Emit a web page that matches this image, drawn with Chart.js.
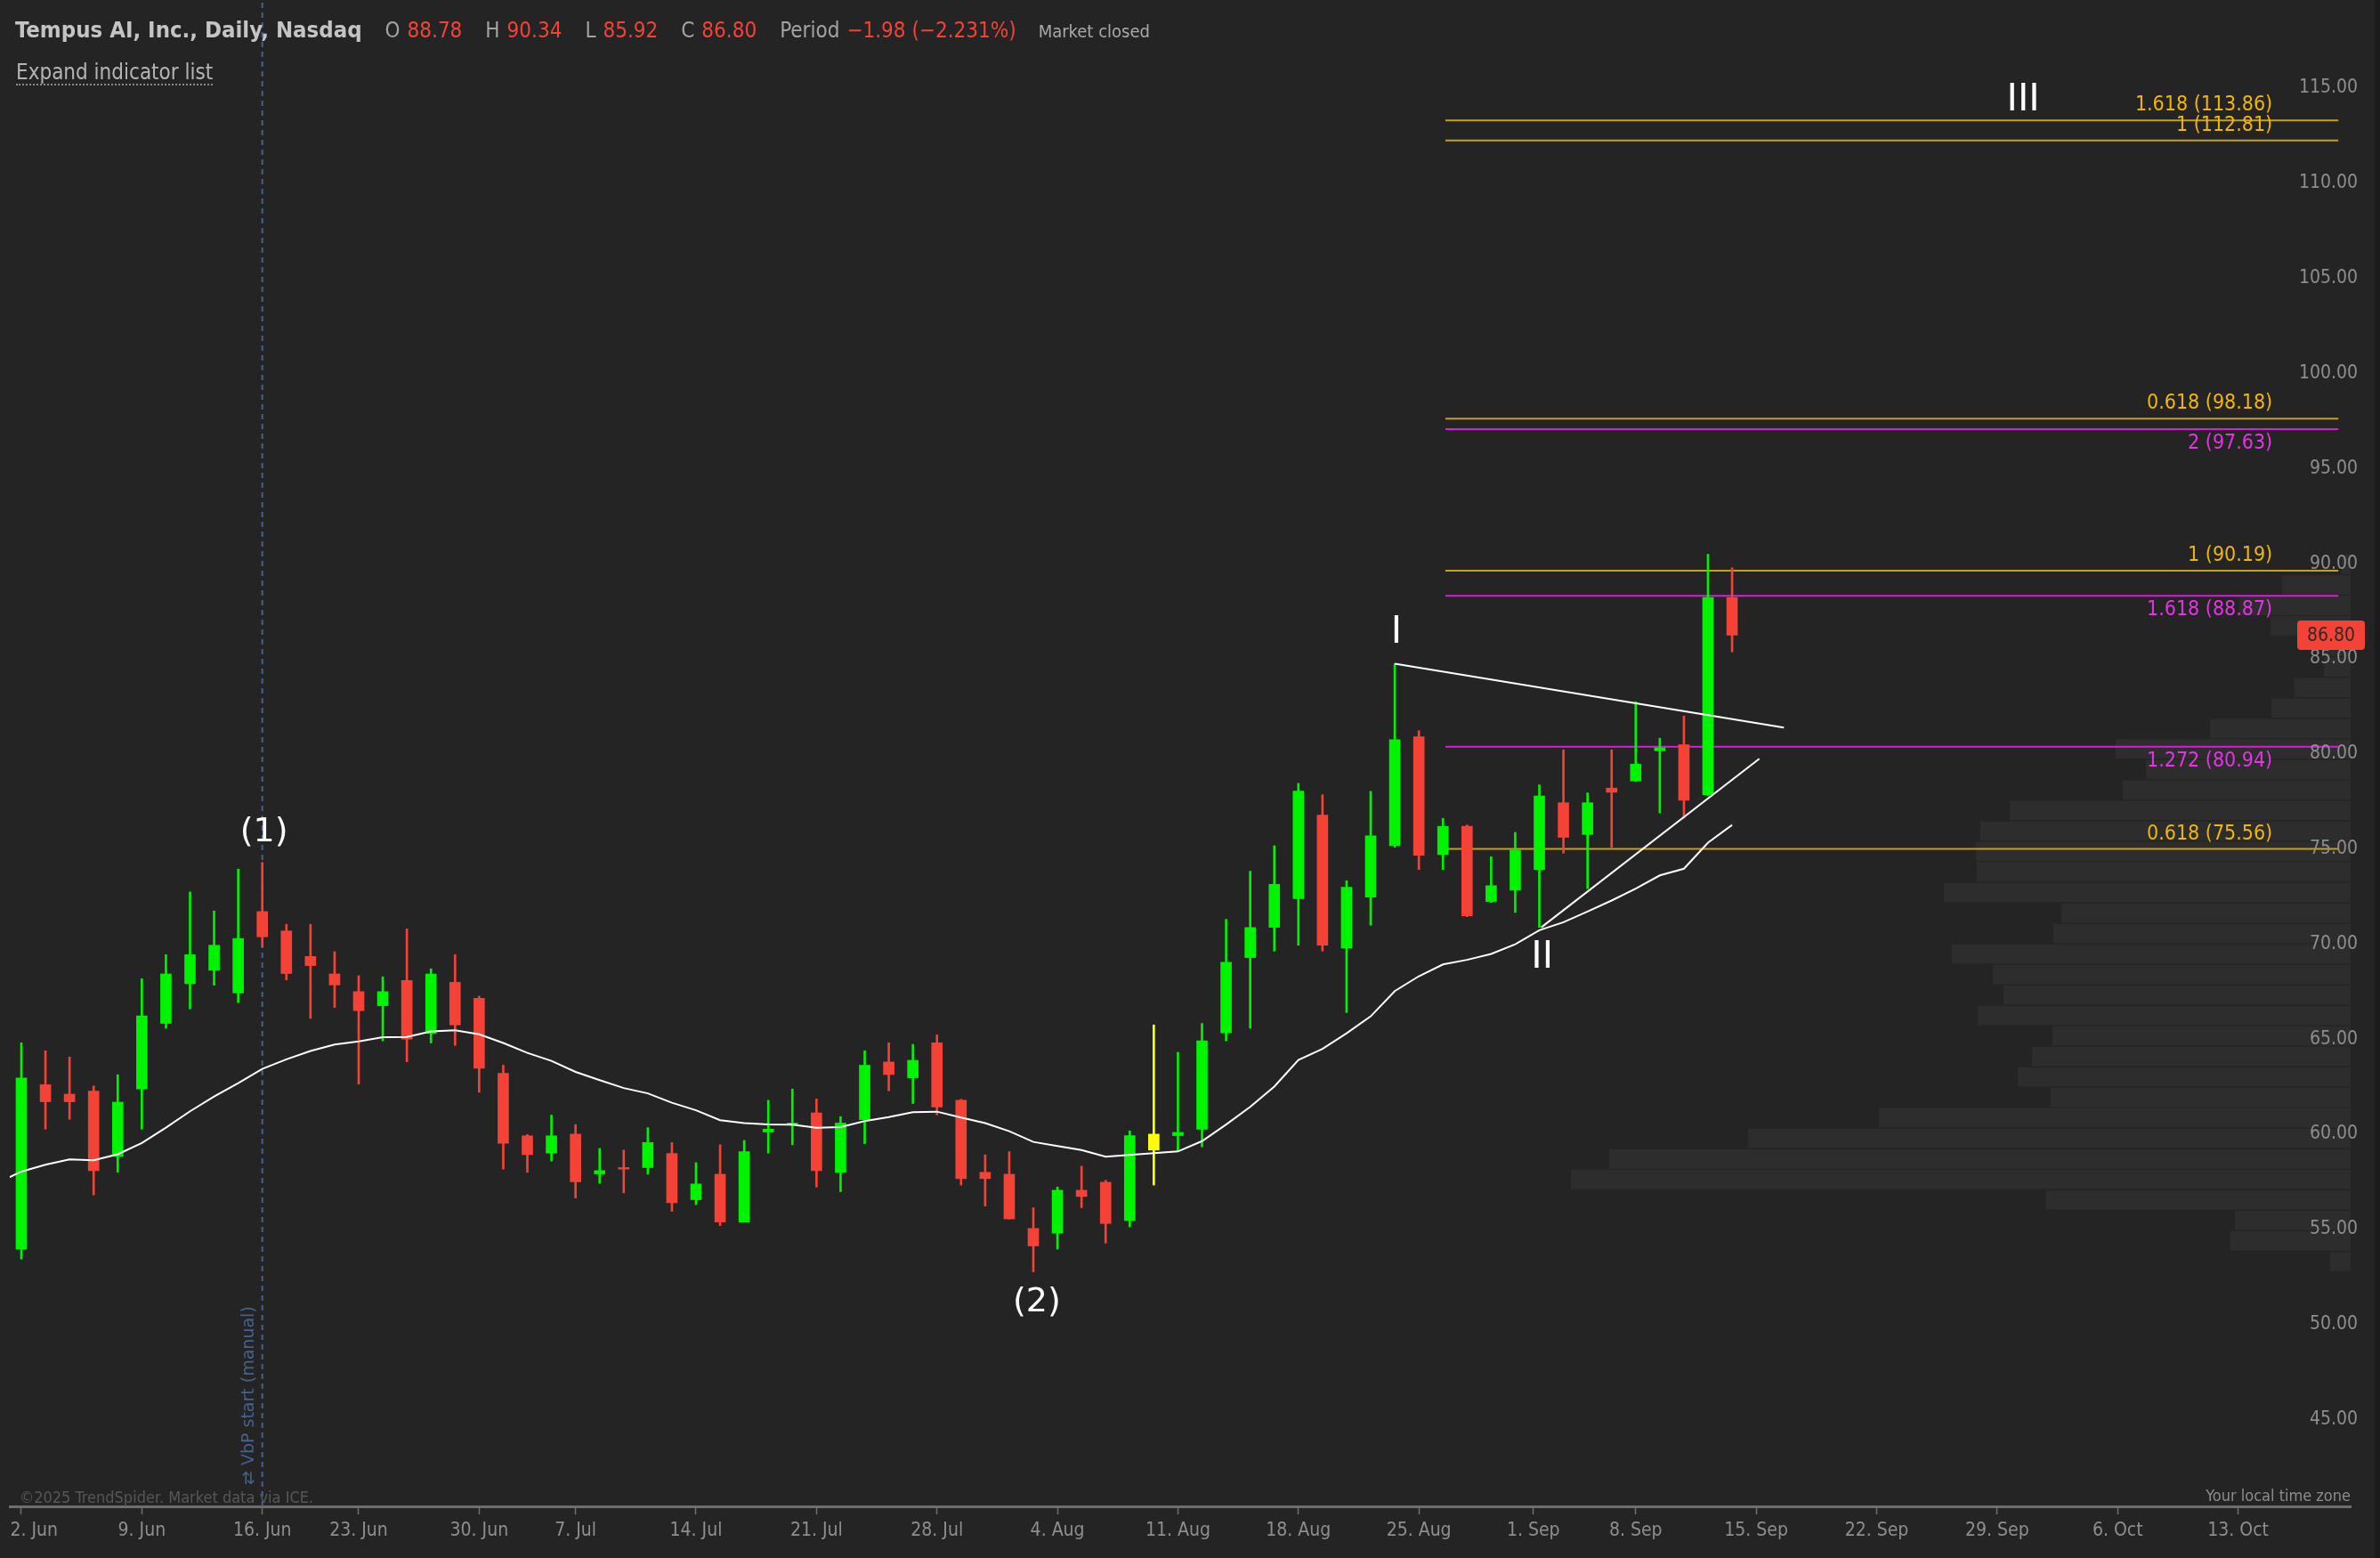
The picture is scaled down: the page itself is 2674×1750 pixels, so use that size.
<!DOCTYPE html>
<html>
<head>
<meta charset="utf-8">
<title>Tempus AI, Inc., Daily, Nasdaq</title>
<script src="https://cdn.jsdelivr.net/npm/chart.js@4.4.1/dist/chart.umd.min.js"></script>
<style>
  html, body { margin: 0; padding: 0; background: #242424; overflow: hidden; }
  #wrap { position: relative; width: 2674px; height: 1750px; }
  #chart { position: absolute; left: 0; top: 0; }
  .cond { font-family: "DejaVu Sans Condensed", "DejaVu Sans", sans-serif; font-stretch: condensed; }
  #head { position: absolute; left: 17px; top: 19px; font-size: 24px; line-height: 28px; color: #a3a3a3; white-space: nowrap; display: flex; align-items: baseline; }
  #head .name { font-weight: bold; color: #c4c4c4; font-size: 25.5px; }
  #head .k { margin-left: 26px; }
  #head .v { margin-left: 8px; color: #f44336; }
  #head .mc { margin-left: 25px; font-size: 20px; color: #a9a9a9; }
  #expand { position: absolute; left: 18px; top: 68px; font-size: 24px; line-height: 26px; color: #b4b4b4; border-bottom: 2px dotted #8a8a8a; }
  #copy { position: absolute; left: 22px; top: 1671px; font-size: 18px; color: #575757; }
  #tz { position: absolute; right: 33px; top: 1669px; font-size: 18px; color: #8c8c8c; }
</style>
</head>
<body>
<div id="wrap">
  <canvas id="chart" width="2674" height="1750"></canvas>
  <div id="head" class="cond">
    <span class="name">Tempus AI, Inc., Daily, Nasdaq</span>
    <span class="k">O</span><span class="v">88.78</span>
    <span class="k">H</span><span class="v">90.34</span>
    <span class="k">L</span><span class="v">85.92</span>
    <span class="k">C</span><span class="v">86.80</span>
    <span class="k">Period</span><span class="v">&minus;1.98 (&minus;2.231%)</span>
    <span class="mc">Market closed</span>
  </div>
  <div id="expand" class="cond">Expand indicator list</div>
  <div id="copy" class="cond">&copy;2025 TrendSpider. Market data via ICE.</div>
  <div id="tz" class="cond">Your local time zone</div>
</div>
<script>
const FONT = '"DejaVu Sans Condensed", "DejaVu Sans", sans-serif';

// trading days, 2025
const days = ['06-02','06-03','06-04','06-05','06-06','06-09','06-10','06-11','06-12','06-13',
  '06-16','06-17','06-18','06-20','06-23','06-24','06-25','06-26','06-27','06-30',
  '07-01','07-02','07-03','07-07','07-08','07-09','07-10','07-11','07-14','07-15',
  '07-16','07-17','07-18','07-21','07-22','07-23','07-24','07-25','07-28','07-29',
  '07-30','07-31','08-01','08-04','08-05','08-06','08-07','08-08','08-11','08-12',
  '08-13','08-14','08-15','08-18','08-19','08-20','08-21','08-22','08-25','08-26',
  '08-27','08-28','08-29','09-02','09-03','09-04','09-05','09-08','09-09','09-10',
  '09-11','09-12'];

const open = [54.52,63.17,62.67,62.83,59.40,62.94,66.39,68.49,69.18,67.99,
  72.27,71.25,69.91,68.99,68.06,67.32,68.65,65.87,68.55,67.71,
  63.77,60.48,59.57,60.57,58.48,58.81,58.81,59.55,57.12,58.46,
  55.95,60.68,61.04,61.68,58.56,61.33,64.36,63.53,65.37,62.35,
  58.56,58.46,55.61,55.36,57.62,58.04,56.03,59.73,60.49,60.83,
  65.89,69.85,71.44,72.95,77.34,70.35,73.03,75.73,81.46,75.26,
  76.75,72.80,73.39,74.48,77.99,76.32,78.76,79.13,80.72,81.04,
  78.41,88.78];
const high = [65.37,64.95,64.62,63.10,63.69,68.74,70.00,73.30,72.30,74.50,
  74.85,71.60,71.60,70.16,68.90,68.84,71.36,69.26,70.00,67.82,
  64.19,60.55,61.57,61.07,59.82,59.73,60.91,60.13,59.07,60.01,
  60.24,62.35,62.94,62.42,61.49,64.95,65.37,65.29,65.79,62.40,
  59.48,59.65,56.70,57.79,58.88,58.14,60.74,66.31,64.87,66.39,
  71.86,74.39,75.73,79.01,78.41,73.89,78.59,85.30,81.78,77.17,
  76.82,75.15,76.43,78.93,80.77,78.51,80.77,83.30,81.38,82.55,
  91.05,90.34];
const low = [54.00,60.83,61.35,57.37,58.57,60.83,66.14,67.15,68.40,67.48,
  70.40,68.68,66.65,67.23,63.20,65.47,64.37,65.36,65.23,62.77,
  58.73,58.56,59.15,57.21,57.98,57.48,58.46,56.51,56.86,55.76,
  55.95,59.57,60.01,57.79,57.54,60.07,62.85,62.18,61.58,57.89,
  56.79,56.10,53.33,54.52,56.70,54.84,55.69,57.89,59.65,59.90,
  65.47,66.14,70.19,70.50,70.19,66.96,71.55,75.65,74.48,74.48,
  72.00,72.75,72.22,71.44,75.34,73.47,75.65,79.10,77.45,77.18,
  78.35,85.92];
const close = [63.52,62.27,62.27,58.65,62.25,66.79,68.99,70.00,70.50,70.85,
  70.94,69.01,69.43,68.41,67.06,68.06,65.56,68.98,66.31,64.03,
  60.09,59.49,60.48,58.06,58.65,58.73,60.13,56.96,57.95,55.95,
  59.65,60.83,61.15,58.65,61.15,64.19,63.70,64.45,62.00,58.23,
  58.23,56.11,54.69,57.62,57.29,55.87,60.49,60.57,60.66,65.47,
  69.60,71.43,73.70,78.60,70.50,73.55,76.25,81.30,75.23,76.75,
  72.04,73.63,75.50,78.35,76.17,77.99,78.54,80.02,80.88,78.12,
  88.78,86.80];

// moving average (white line), read per day; value for 30 May before the window
const ma20Prev = 58.0;
const ma20 = [58.60,58.96,59.24,59.20,59.51,60.10,60.91,61.77,62.55,63.25,
  64.00,64.50,64.94,65.28,65.44,65.67,65.68,65.97,66.03,65.82,
  65.36,64.84,64.42,63.84,63.41,62.99,62.71,62.22,61.82,61.30,
  61.15,61.08,61.07,60.90,60.94,61.25,61.46,61.72,61.75,61.44,
  61.15,60.72,60.16,59.94,59.73,59.38,59.48,59.57,59.66,60.20,
  61.07,62.00,63.07,64.47,65.05,65.87,66.76,68.09,68.87,69.49,
  69.73,70.04,70.55,71.29,71.71,72.27,72.85,73.47,74.17,74.52,
  75.89,76.82];

const highlightDay = '08-08';

// volume by price (from 16 Jun), bin centre and volume in M shares
const vbpStartDay = '06-16';
const vbpPrice = [53.87,54.95,56.03,57.10,58.18,59.26,60.34,61.42,62.49,63.57,
  64.65,65.73,66.80,67.88,68.96,70.04,71.11,72.19,73.27,74.35,
  75.43,76.50,77.58,78.66,79.74,80.82,81.89,82.97,84.05,85.13,
  86.21,87.28,88.36,89.44,90.52];
const vbpVolume = [0.46,2.70,2.60,6.84,17.52,16.66,13.54,10.60,6.74,7.48,
  7.16,6.70,8.38,7.80,8.04,8.96,6.68,6.50,9.14,8.40,
  8.42,8.32,7.66,5.12,4.60,5.28,3.16,1.78,1.26,0.60,
  0.60,1.80,2.50,1.54,0.20];

// Fibonacci projections
const fibLevels = [113.86, 112.81, 98.18, 97.63, 90.19, 88.87, 80.94, 75.56];
const fibRatios = ['1.618', '1', '0.618', '2', '1', '1.618', '1.272', '0.618'];
const fibGroup = ['gold', 'gold', 'gold', 'pink', 'gold', 'pink', 'pink', 'gold'];
const fibFrom = 59.1, fibTo = 96.16;

// trend lines [dayIndex, price]
const trendUpper = [[57, 85.30], [73.15, 81.94]];
const trendLower = [[63.08, 71.44], [72.13, 80.30]];

// wave count labels [dayIndex, price]
const waveText = ['(1)', '(2)', 'I', 'II', 'III'];
const waveAt = [[10.07, 76.43], [42.14, 51.72], [57.07, 86.92], [63.12, 69.83], [83.08, 114.92]];

// axes
const tickIdx = [0, 5, 10, 14, 19, 23, 28, 33, 38, 43, 48, 53, 58, 62.75, 67, 72, 77, 82, 87, 92];
const tickText = ['\u2002\u2002\u20022. Jun', '9. Jun', '16. Jun', '23. Jun', '30. Jun', '7. Jul', '14. Jul', '21. Jul', '28. Jul',
  '4. Aug', '11. Aug', '18. Aug', '25. Aug', '1. Sep', '8. Sep', '15. Sep', '22. Sep', '29. Sep', '6. Oct', '13. Oct'];
const yTicks = [45, 50, 55, 60, 65, 70, 75, 80, 85, 90, 95, 100, 105, 110, 115];
const xMin = -0.48, xMax = 96.67, yMin = 41.0, yMax = 120.19;

const GREEN = '#00f400', RED = '#f44336', YELLOW = '#ffff00';
const candleColor = days.map((d, i) => d === highlightDay ? YELLOW : (close[i] >= open[i] ? GREEN : RED));

const datasets = [];

datasets.push({
  type: 'bar', label: 'Volume by price', indexAxis: 'y', xAxisID: 'xv', yAxisID: 'yv',
  data: vbpPrice.map((p, k) => ({ x: vbpVolume[k], y: p })),
  backgroundColor: '#2d2d2d', grouped: false, categoryPercentage: 1, barPercentage: 0.95, order: 10
});

fibLevels.forEach((lv, k) => {
  datasets.push({
    type: 'line', xAxisID: 'x', yAxisID: 'y',
    data: [{ x: fibFrom, y: lv }, { x: fibTo, y: lv }],
    borderColor: fibGroup[k] === 'gold' ? '#c9a017' : '#d61ed6',
    borderWidth: 2, pointRadius: 0, order: 9
  });
});

const vbpIdx = days.indexOf(vbpStartDay);
datasets.push({
  type: 'line', xAxisID: 'x', yAxisID: 'y',
  data: [{ x: vbpIdx, y: yMin }, { x: vbpIdx, y: yMax }],
  borderColor: '#44628c', borderWidth: 2, borderDash: [6, 5], pointRadius: 0, order: 8
});

datasets.push({
  type: 'bar', label: 'wick', xAxisID: 'x', yAxisID: 'y',
  data: days.map((d, i) => ({ x: i, y: [low[i], high[i]] })),
  backgroundColor: candleColor, grouped: false, barThickness: 2, maxBarThickness: 2, order: 6
});

datasets.push({
  type: 'bar', label: 'body', xAxisID: 'x', yAxisID: 'y',
  data: days.map((d, i) => ({ x: i, y: [open[i], close[i]] })),
  backgroundColor: candleColor, grouped: false, barThickness: 12, maxBarThickness: 12, order: 5
});

datasets.push({
  type: 'line', label: 'MA', xAxisID: 'x', yAxisID: 'y',
  data: [{ x: -1, y: ma20Prev }].concat(ma20.map((v, i) => ({ x: i, y: v }))),
  borderColor: '#ffffff', borderWidth: 2, pointRadius: 0, order: 3
});

[trendUpper, trendLower].forEach(t => {
  datasets.push({
    type: 'line', xAxisID: 'x', yAxisID: 'y',
    data: t.map(p => ({ x: p[0], y: p[1] })),
    borderColor: '#ffffff', borderWidth: 2, pointRadius: 0, order: 2
  });
});

const decor = {
  id: 'decor',
  beforeDraw(c) {
    const ctx = c.ctx;
    ctx.save();
    ctx.fillStyle = '#242424';
    ctx.fillRect(0, 0, c.width, c.height);
    ctx.fillStyle = '#1b1b1b';
    ctx.fillRect(c.width - 6, 0, 6, c.height);
    ctx.restore();
  },
  afterDatasetsDraw(c) {
    const ctx = c.ctx, x = c.scales.x, y = c.scales.y;
    ctx.save();
    ctx.textBaseline = 'middle';
    // fib labels
    ctx.font = '23px ' + FONT;
    ctx.textAlign = 'right';
    fibLevels.forEach((lv, k) => {
      const gold = fibGroup[k] === 'gold';
      ctx.fillStyle = gold ? '#f2b705' : '#e434e4';
      ctx.fillText(fibRatios[k] + ' (' + lv.toFixed(2) + ')',
        x.getPixelForValue(fibTo) - 74, y.getPixelForValue(lv) + (gold ? -17 : 16));
    });
    // wave counts
    ctx.textAlign = 'center';
    ctx.fillStyle = '#ffffff';
    waveText.forEach((t, k) => {
      ctx.font = (t.charAt(0) === '(' ? '38px' : '42px') + ' "DejaVu Sans", sans-serif';
      ctx.fillText(t, x.getPixelForValue(waveAt[k][0]), y.getPixelForValue(waveAt[k][1]));
    });
    // VbP anchor label
    ctx.translate(x.getPixelForValue(vbpIdx) - 15, c.chartArea.bottom - 24);
    ctx.rotate(-Math.PI / 2);
    ctx.textAlign = 'left';
    ctx.fillStyle = '#44628c';
    ctx.font = '19px "DejaVu Sans", sans-serif';
    ctx.fillText('\u21C4 VbP start (manual)', 0, 0);
    ctx.restore();
  },
  afterDraw(c) {
    const ctx = c.ctx, y = c.scales.y;
    const last = close[close.length - 1];
    const py = y.getPixelForValue(last);
    const bx = c.chartArea.right - 60;
    ctx.save();
    ctx.fillStyle = RED;
    ctx.beginPath();
    ctx.roundRect(bx, py - 16.5, 76, 33, 4);
    ctx.fill();
    ctx.fillStyle = '#2b2b2b';
    ctx.font = '21px ' + FONT;
    ctx.textAlign = 'center';
    ctx.textBaseline = 'middle';
    ctx.fillText(last.toFixed(2), bx + 38, py + 1);
    ctx.restore();
  }
};

const zeroPad = s => { s.paddingLeft = 0; s.paddingRight = 0; s.paddingTop = 0; s.paddingBottom = 0; };

new Chart(document.getElementById('chart'), {
  type: 'bar',
  data: { datasets: datasets },
  options: {
    responsive: false,
    animation: false,
    devicePixelRatio: 1,
    layout: { padding: { left: 11, right: 25, top: 0, bottom: 0 } },
    plugins: { legend: { display: false }, tooltip: { enabled: false } },
    scales: {
      x: {
        type: 'linear', position: 'bottom', min: xMin, max: xMax, offset: false,
        afterBuildTicks: s => { s.ticks = tickIdx.map(v => ({ value: v })); },
        afterFit: s => { s.height = 58; zeroPad(s); },
        ticks: {
          autoSkip: false, maxRotation: 0, padding: 6, color: '#8e8e8e',
          font: { family: FONT, size: 21 },
          callback: (v, i) => tickText[i]
        },
        grid: { drawOnChartArea: false, drawTicks: true, tickLength: 9, color: '#6e6e6e', tickWidth: 1.5, offset: false },
        border: { display: true, color: '#6e6e6e', width: 3 }
      },
      y: {
        type: 'linear', position: 'right', min: yMin, max: yMax, offset: false,
        afterBuildTicks: s => { s.ticks = yTicks.map(v => ({ value: v })); },
        afterFit: s => { s.width = 8; zeroPad(s); },
        ticks: {
          z: 1, mirror: true, crossAlign: 'near', padding: 8, labelOffset: -12, color: '#8e8e8e',
          font: { family: FONT, size: 21 },
          callback: v => v.toFixed(2)
        },
        grid: { display: false, drawTicks: false },
        border: { display: false }
      },
      xv: { type: 'linear', axis: 'x', display: false, reverse: true, min: 0, max: 52.6, offset: false },
      yv: { type: 'linear', axis: 'y', display: false, min: yMin, max: yMax, offset: false }
    }
  },
  plugins: [decor]
});
</script>
</body>
</html>
